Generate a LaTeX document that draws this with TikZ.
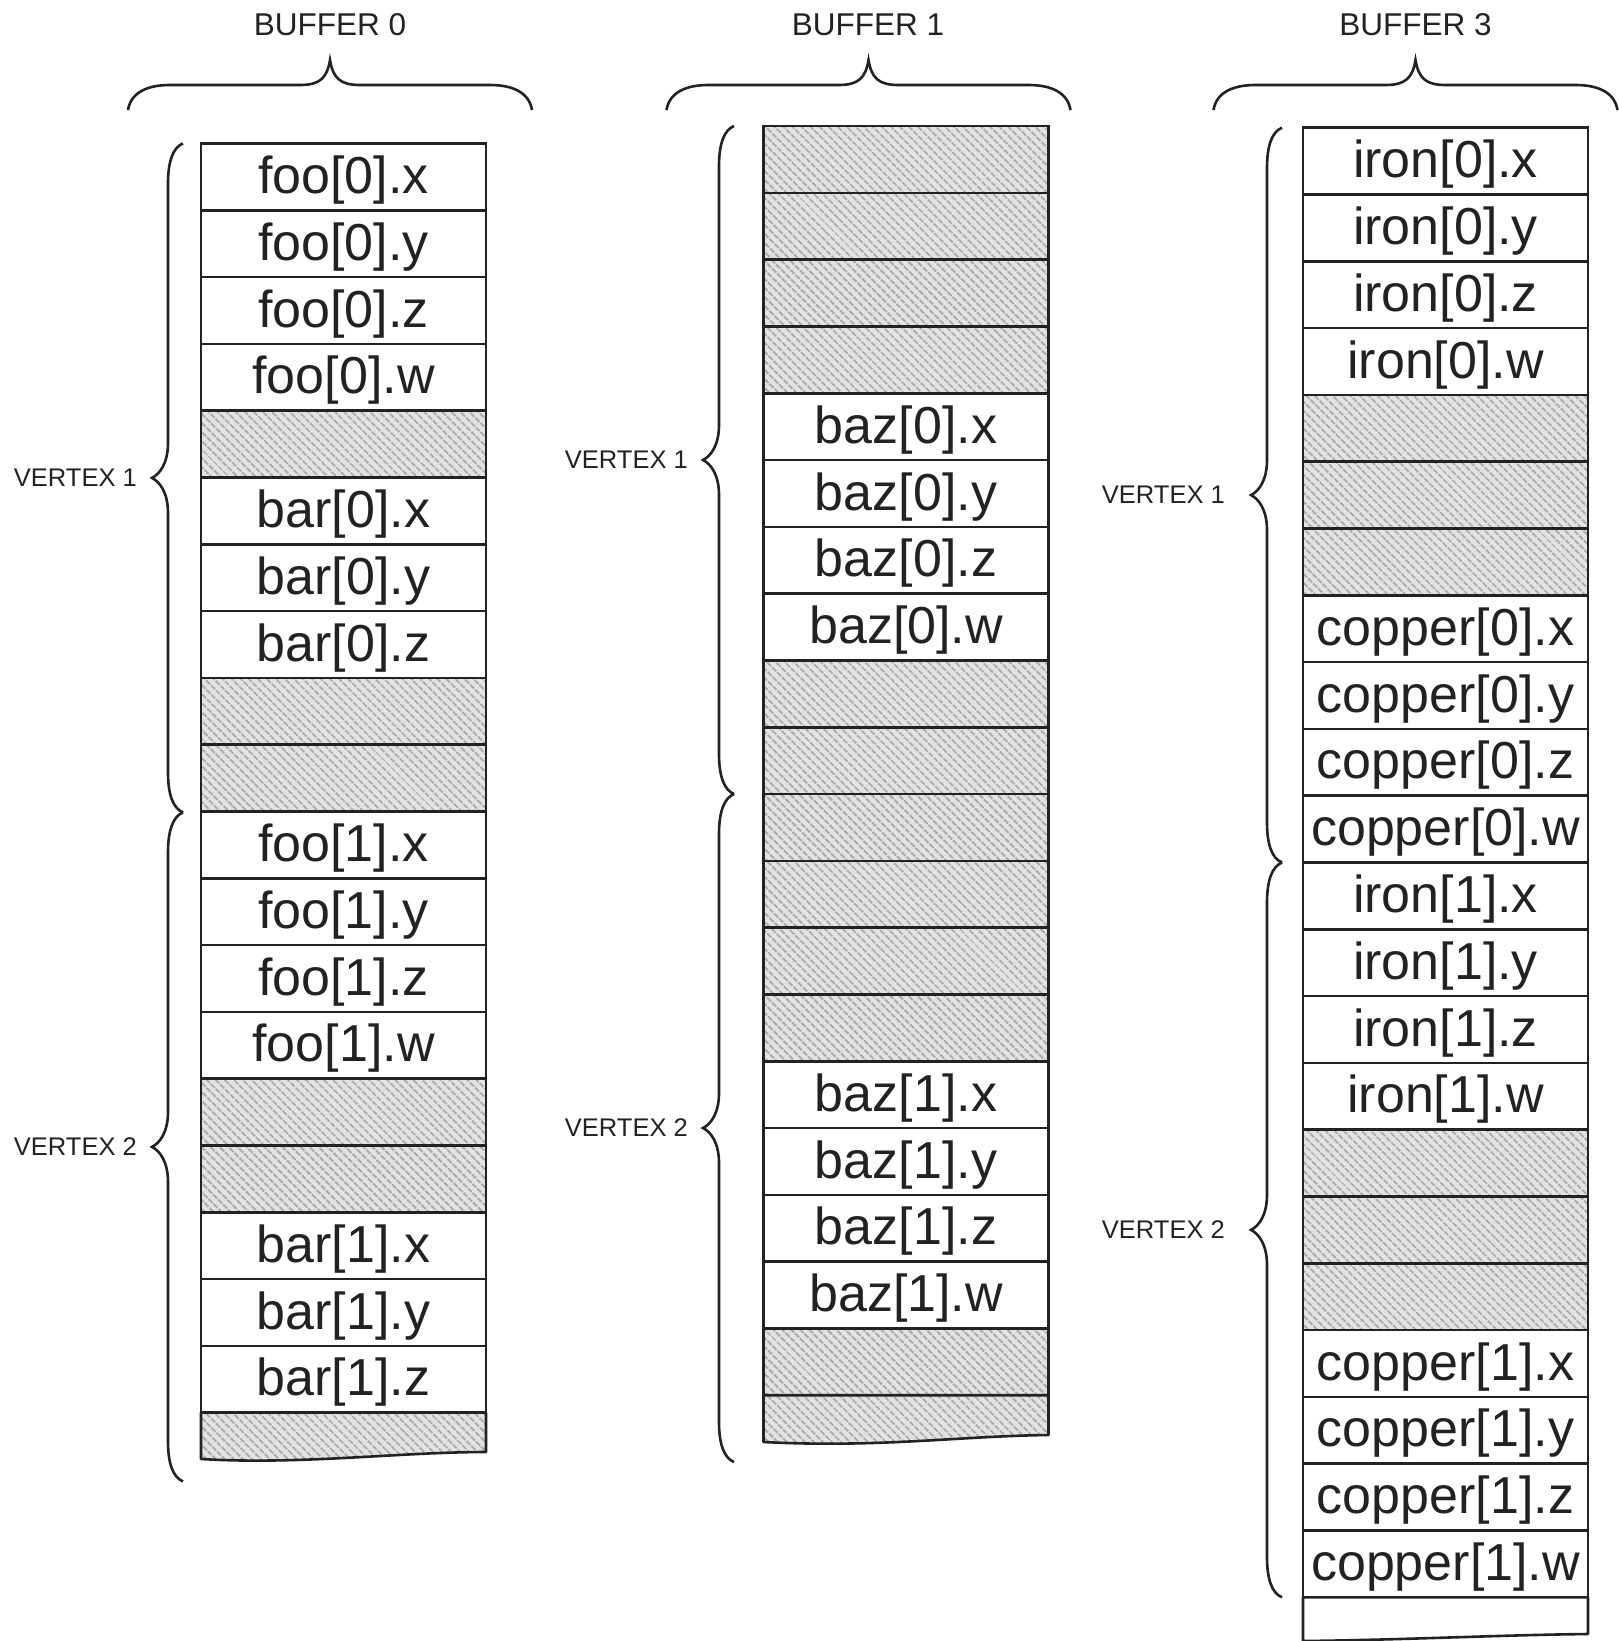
\documentclass[tikz,border=0pt]{standalone}
\usepackage{fontspec}
\setmainfont{Liberation Sans}
\usetikzlibrary{patterns.meta}
\definecolor{ink}{HTML}{222222}
\definecolor{hatchbg}{HTML}{E2E4E4}
\definecolor{hatchline}{HTML}{A9ACAC}
\tikzset{
  bracestyle/.style={draw=ink, line width=2.6pt},
  cell/.style={draw=ink, line width=2.6pt, rectangle, minimum width=285pt, minimum height=66.8pt,
    inner sep=0pt, outer sep=0pt, text height=50pt, text depth=16.8pt, text=ink,
    font=\fontsize{52}{60}\selectfont},
  hatchpaint/.style={preaction={fill=hatchbg},
    preaction={pattern={Lines[angle=-45,distance=6.4pt,line width=2.4pt]}, pattern color=hatchline}},
  hatch/.style={cell, hatchpaint},
  buflabel/.style={text=ink, font=\fontsize{31.5}{36}\selectfont, inner sep=0pt, anchor=base},
  vlabel/.style={text=ink, font=\fontsize{25.5}{30}\selectfont, inner sep=0pt, anchor=base east},
}
\newcommand\mytopbrace[1]{%
  \draw[bracestyle] (#1,110) .. controls +(3,-18) and +(-22,0) .. ++(42,-25) -- ++(130,0)
    .. controls +(20,0) and +(-3,18) .. ++(30,-25) .. controls +(3,18) and +(-20,0) .. ++(30,25)
    -- ++(130,0) .. controls +(22,0) and +(-3,-18) .. ++(42,25);}
\newcommand\myvbrace[3]{%
  \draw[bracestyle] (#1,#2) .. controls +(-10,4) and +(0,-22) .. ++(-15,40) -- ++(0,#3)
    .. controls +(0,20) and +(8,-4) .. ++(-16,35) .. controls +(8,4) and +(0,-20) .. ++(16,35)
    -- ++(0,#3) .. controls +(0,22) and +(-10,-4) .. ++(15,40);}
\begin{document}
\begin{tikzpicture}[x=1pt, y=-1pt]
\useasboundingbox[fill=white] (0,0) rectangle (1619,1641);

% ---------- titles and top braces
\node[buflabel] (t0) at (330,35) {BUFFER 0};
\node[buflabel] (t1) at (868,35) {BUFFER 1};
\node[buflabel] (t3) at (1415.5,35) {BUFFER 3};
\mytopbrace{128}
\mytopbrace{666.5}
\mytopbrace{1213.5}

% ---------- buffer 0
\foreach \s/\t [count=\i from 0] in {cell/foo[0].x, cell/foo[0].y, cell/foo[0].z, cell/foo[0].w,
  hatch/{}, cell/bar[0].x, cell/bar[0].y, cell/bar[0].z, hatch/{}, hatch/{},
  cell/foo[1].x, cell/foo[1].y, cell/foo[1].z, cell/foo[1].w, hatch/{}, hatch/{},
  cell/bar[1].x, cell/bar[1].y, cell/bar[1].z}
  \node[\s] (a\i) at (343.5,{176.8+\i*66.8}) {\t};
\path[draw=ink, line width=2.6pt, line join=round, hatchpaint] (201,1412.6) -- (486,1412.6) -- (486,1452)
  .. controls (400,1452) and (300,1465) .. (201,1459) -- cycle;

% ---------- buffer 1
\foreach \s/\t [count=\i from 0] in {hatch/{}, hatch/{}, hatch/{}, hatch/{},
  cell/baz[0].x, cell/baz[0].y, cell/baz[0].z, cell/baz[0].w,
  hatch/{}, hatch/{}, hatch/{}, hatch/{}, hatch/{}, hatch/{},
  cell/baz[1].x, cell/baz[1].y, cell/baz[1].z, cell/baz[1].w, hatch/{}}
  \node[\s] (b\i) at (906,{159.4+\i*66.8}) {\t};
\path[draw=ink, line width=2.6pt, line join=round, hatchpaint] (763.5,1395.2) -- (1048.5,1395.2) -- (1048.5,1435)
  .. controls (960,1436) and (880,1448) .. (763.5,1442) -- cycle;

% ---------- buffer 3
\foreach \s/\t [count=\i from 0] in {cell/iron[0].x, cell/iron[0].y, cell/iron[0].z, cell/iron[0].w,
  hatch/{}, hatch/{}, hatch/{},
  cell/copper[0].x, cell/copper[0].y, cell/copper[0].z, cell/copper[0].w,
  cell/iron[1].x, cell/iron[1].y, cell/iron[1].z, cell/iron[1].w,
  hatch/{}, hatch/{}, hatch/{},
  cell/copper[1].x, cell/copper[1].y, cell/copper[1].z, cell/copper[1].w}
  \node[\s] (c\i) at (1445.5,{161.1+\i*66.8}) {\t};
\path[draw=ink, line width=2.6pt, line join=round, fill=white] (1303,1597.3) -- (1588,1597.3) -- (1588,1634)
  .. controls (1500,1635) and (1400,1640) .. (1303,1641) -- cycle;

% ---------- vertex braces and labels
\myvbrace{183}{143.4}{259.5}
\myvbrace{183}{812.4}{259.5}
\node[vlabel] (v01) at (137,486.4) {VERTEX 1};
\node[vlabel] (v02) at (137,1155.4) {VERTEX 2};

\myvbrace{734}{126}{259}
\myvbrace{734}{794}{259}
\node[vlabel] (v11) at (688,468.5) {VERTEX 1};
\node[vlabel] (v12) at (688,1136.5) {VERTEX 2};

\myvbrace{1282}{127.7}{292.4}
\myvbrace{1282}{862.5}{292.4}
\node[vlabel] (v31) at (1225,503.6) {VERTEX 1};
\node[vlabel] (v32) at (1225,1238.4) {VERTEX 2};
\end{tikzpicture}
\end{document}
